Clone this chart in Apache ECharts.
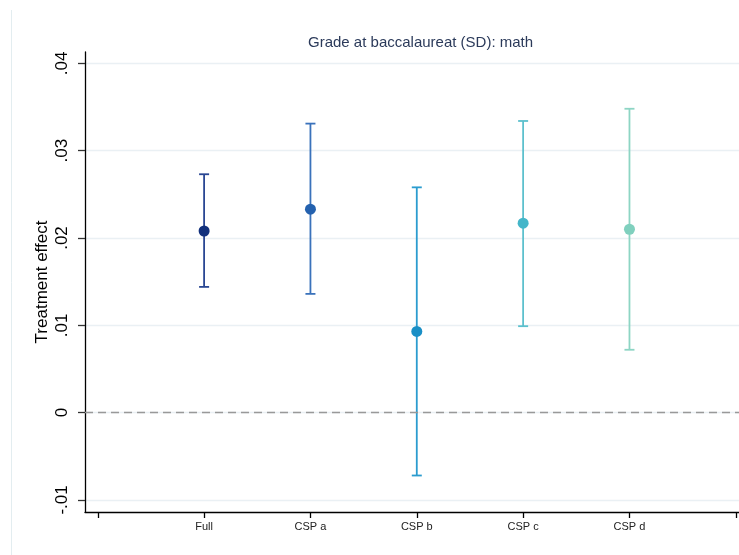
<!DOCTYPE html>
<html>
<head>
<meta charset="utf-8">
<script src="https://cdn.jsdelivr.net/npm/echarts@6/dist/echarts.min.js"></script>
<style>
html,body{margin:0;padding:0;background:#fff;}
#chart{width:739px;height:555px;}
</style>
</head>
<body>
<div id="chart"></div>
<script>
const categories = ['Full', 'CSP a', 'CSP b', 'CSP c', 'CSP d'];
const xPositions = [1, 2, 3, 4, 5];
const estimates = [0.0208, 0.0233, 0.0093, 0.0217, 0.0210];
const lower = [0.0144, 0.0136, -0.0072, 0.0099, 0.0072];
const upper = [0.0273, 0.0331, 0.0258, 0.0334, 0.0348];
const xTicks = [0, 1, 2, 3, 4, 5, 6];
const yTicks = [-0.01, 0, 0.01, 0.02, 0.03, 0.04];
const yTickLabels = ['-.01', '0', '.01', '.02', '.03', '.04'];
const pointColors = ['#12307c', '#2461ae', '#1a8fc6', '#44b6c9', '#80d0be'];
const barColors = ['#2a4793', '#3a72bb', '#2b9ccf', '#5cc0cd', '#8dd5c4'];

const font = 'Arial, "Liberation Sans", Helvetica, sans-serif';
const chart = echarts.init(document.getElementById('chart'), null, {renderer: 'canvas'});

const series = [];
categories.forEach((c, i) => {
  series.push({
    type: 'custom',
    name: c + ' CI',
    renderItem: function (params, api) {
      const x = api.value(0);
      const lo = api.coord([x, api.value(1)]);
      const hi = api.coord([x, api.value(2)]);
      const hw = 5;
      const style = {stroke: barColors[i], lineWidth: 1.8};
      return {
        type: 'group',
        children: [
          {type: 'line', shape: {x1: lo[0], y1: lo[1], x2: hi[0], y2: hi[1]}, style: style},
          {type: 'line', shape: {x1: lo[0] - hw, y1: lo[1], x2: lo[0] + hw, y2: lo[1]}, style: style},
          {type: 'line', shape: {x1: hi[0] - hw, y1: hi[1], x2: hi[0] + hw, y2: hi[1]}, style: style}
        ]
      };
    },
    data: [[xPositions[i], lower[i], upper[i]]],
    z: 3
  });
  series.push({
    type: 'scatter',
    name: c,
    data: [[xPositions[i], estimates[i]]],
    symbol: 'circle',
    symbolSize: 11,
    itemStyle: {color: pointColors[i], opacity: 1},
    z: 4
  });
});
series.push({
  type: 'line',
  data: [],
  markLine: {
    silent: true,
    symbol: 'none',
    label: {show: false},
    lineStyle: {color: '#999999', type: [8, 5], width: 1.3},
    data: [{yAxis: 0}]
  },
  z: 2
});

chart.setOption({
  animation: false,
  backgroundColor: '#ffffff',
  title: {
    text: 'Grade at baccalaureat (SD): math',
    left: 303,
    top: 30,
    textStyle: {fontFamily: font, fontSize: 15, fontWeight: 'normal', color: '#2b3a5a'}
  },
  graphic: [{
    type: 'line',
    shape: {x1: 11.5, y1: 10, x2: 11.5, y2: 555},
    style: {stroke: '#e3edf0', lineWidth: 1}
  }],
  grid: {left: 85, right: 0, top: 52, bottom: 43, containLabel: false},
  xAxis: {
    type: 'value',
    min: -0.12,
    max: 6.03,
    axisLine: {show: true, onZero: false, lineStyle: {color: '#000000', width: 1.3}},
    axisTick: {show: true, customValues: xTicks, length: 6, lineStyle: {color: '#000000', width: 1.3}},
    axisLabel: {
      customValues: xPositions,
      formatter: function (v) {
        const idx = xPositions.indexOf(Math.round(v));
        return idx >= 0 ? categories[idx] : '';
      },
      fontFamily: font, fontSize: 11, color: '#222222', margin: 9
    },
    splitLine: {show: false}
  },
  yAxis: {
    type: 'value',
    min: -0.01138,
    max: 0.0413,
    name: 'Treatment effect',
    nameLocation: 'middle',
    nameGap: 34,
    nameMoveOverlap: false,
    nameTextStyle: {fontFamily: font, fontSize: 17, color: '#000000'},
    axisLine: {show: true, onZero: false, lineStyle: {color: '#000000', width: 1.3}},
    axisTick: {show: true, customValues: yTicks, length: 7, lineStyle: {color: '#333333', width: 1.3}},
    axisLabel: {
      customValues: yTicks,
      rotate: 90,
      formatter: function (v) {
        let best = 0;
        yTicks.forEach((t, k) => { if (Math.abs(t - v) < Math.abs(yTicks[best] - v)) best = k; });
        return yTickLabels[best];
      },
      fontFamily: font, fontSize: 17, color: '#000000', margin: 14
    },
    splitLine: {show: true, lineStyle: {color: '#eaf0f4', width: 1.3}}
  },
  series: series
});
</script>
</body>
</html>
